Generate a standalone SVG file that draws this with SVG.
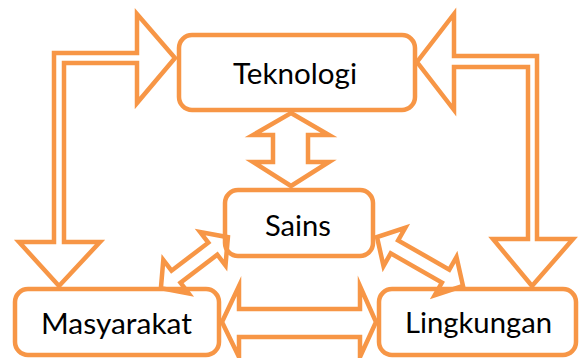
<svg xmlns="http://www.w3.org/2000/svg" width="579" height="358" viewBox="0 0 579 358">
<style>
.box{fill:#fff;stroke:#F79646;stroke-width:4.5}
.arr{fill:none;stroke:#F79646;stroke-width:4.5;stroke-linejoin:miter;stroke-miterlimit:10}
.lbl{font-family:Lato,"Open Sans",sans-serif;font-size:28px;fill:#000;text-anchor:middle}
</style>
<rect width="579" height="358" fill="#fff"/>
<g id="teknologi">
<rect class="box" x="179" y="35" width="236" height="75" rx="13"/>
<text class="lbl" x="295" y="84" textLength="124" lengthAdjust="spacingAndGlyphs">Teknologi</text>
</g>
<g id="sains">
<rect class="box" x="225" y="190" width="148" height="66" rx="13"/>
<text class="lbl" x="298" y="236" textLength="66" lengthAdjust="spacingAndGlyphs">Sains</text>
</g>
<g id="masyarakat">
<rect class="box" x="15" y="289" width="204" height="66" rx="13"/>
<text class="lbl" x="116.5" y="334" textLength="151" lengthAdjust="spacingAndGlyphs">Masyarakat</text>
</g>
<g id="lingkungan">
<rect class="box" x="379" y="289" width="197" height="66" rx="13"/>
<text class="lbl" x="478.5" y="333" textLength="147" lengthAdjust="spacingAndGlyphs">Lingkungan</text>
</g>
<g id="connectors">
<polygon class="arr" points="54,53 137,53 137,14 175,58 137,103 137,63 64,63 64,242 100,242 59,286 19,242 54,242"/>
<polygon class="arr" points="454,56 537,56 537,239 573,239 532,286 493,239 528,239 528,67 454,67 454,110 417,62 454,14"/>
<polygon class="arr" points="291,113 329,135 308,135 308,162 329,162 291,186 253,162 273,162 273,135 253,135"/>
<polygon class="arr" points="227.9,237.2 225.5,265.4 217.3,254.7 180.5,282.7 188.7,293.4 160.9,288.2 163.3,260 171.5,270.7 208.3,242.7 200.1,232"/>
<polygon class="arr" points="377,237 383.5,266 390.7,253.4 441.9,282.6 434.7,295.2 463,286 456.5,257 449.3,269.6 398.1,240.4 405.3,227.8"/>
<polygon class="arr" points="222,322 239,286 239,309 360,309 360,286 376,322 360,357 360,337 239,337 239,357"/>
</g>
</svg>
